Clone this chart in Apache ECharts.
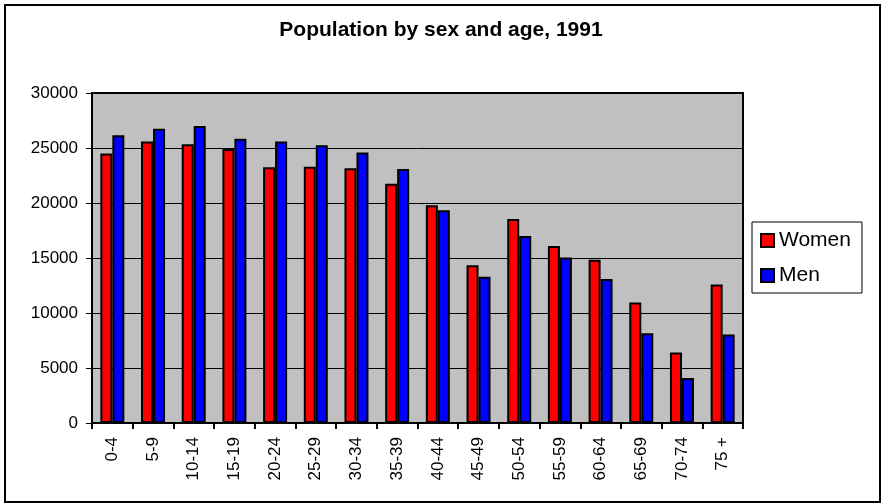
<!DOCTYPE html>
<html>
<head>
<meta charset="utf-8">
<script src="https://cdn.jsdelivr.net/npm/echarts@6/dist/echarts.min.js"></script>
<style>
  html, body { margin: 0; padding: 0; background: #fff; }
</style>
</head>
<body>
<!-- chart container -->
<div id="main" style="width: 882px; height: 504px"></div>
<script>
var ageGroups = ["0-4", "5-9", "10-14", "15-19", "20-24", "25-29", "30-34", "35-39",
  "40-44", "45-49", "50-54", "55-59", "60-64", "65-69", "70-74", "75 +"];
var women = [24500, 25600, 25350, 24900, 23250, 23300, 23150, 21750,
  19800, 14350, 18550, 16100, 14850, 10950, 6400, 12600];
var men = [26150, 26750, 27000, 25850, 25600, 25250, 24600, 23100,
  19350, 13300, 17000, 15050, 13100, 8150, 4100, 8050];

var font = 'Arial, "Liberation Sans", sans-serif';

var chart = echarts.init(document.getElementById("main"));
chart.setOption({
  animation: false,
  backgroundColor: "#fff",
  textStyle: { fontFamily: font },
  title: {
    text: "Population by sex and age, 1991",
    left: "center",
    top: 20,
    padding: 0,
    textStyle: { fontFamily: font, fontSize: 21, fontWeight: "bold", color: "#000" },
  },
  graphic: [
    {
      type: "rect",
      shape: { x: 5, y: 5, width: 875, height: 497 },
      style: { fill: "none", stroke: "#000", lineWidth: 2 },
      z: 100,
    },
  ],
  legend: {
    data: ["Women", "Men"],
    orient: "vertical",
    left: 752,
    top: 222,
    padding: [8, 11, 7, 8],
    itemGap: 14,
    itemWidth: 13,
    itemHeight: 13,
    itemTextGap: 8,
    icon: "rect",
    borderColor: "#000",
    borderWidth: 1,
    backgroundColor: "#fff",
    textStyle: { fontFamily: font, fontSize: 21, color: "#000" },
  },
  grid: {
    left: 92,
    right: 139,
    top: 93,
    bottom: 81,
    show: true,
    backgroundColor: "#c0c0c0",
    borderColor: "#000",
    borderWidth: 2,
  },
  xAxis: {
    type: "category",
    data: ageGroups,
    axisLine: { lineStyle: { color: "#000", width: 2 } },
    axisTick: { show: true, length: 6, lineStyle: { color: "#000", width: 2 } },
    axisLabel: {
      interval: 0,
      rotate: 90,
      margin: 14,
      fontSize: 17,
      color: "#000",
      fontFamily: font,
    },
  },
  yAxis: {
    type: "value",
    min: 0,
    max: 30000,
    interval: 5000,
    axisLine: { show: true, lineStyle: { color: "#000", width: 2 } },
    axisTick: { show: true, length: 6, lineStyle: { color: "#000", width: 1 } },
    axisLabel: {
      margin: 14,
      fontSize: 17,
      color: "#000",
      fontFamily: font,
      formatter: function (v) {
        return String(v);
      },
    },
    splitLine: { show: true, lineStyle: { color: "#000", width: 1 } },
  },
  series: [
    {
      name: "Women",
      type: "bar",
      data: women,
      barWidth: 12,
      barGap: "0%",
      itemStyle: { color: "#ff0000", borderColor: "#000", borderWidth: 2 },
    },
    {
      name: "Men",
      type: "bar",
      data: men,
      barWidth: 12,
      barGap: "0%",
      itemStyle: { color: "#0000ff", borderColor: "#000", borderWidth: 2 },
    },
  ],
});
</script>
</body>
</html>
